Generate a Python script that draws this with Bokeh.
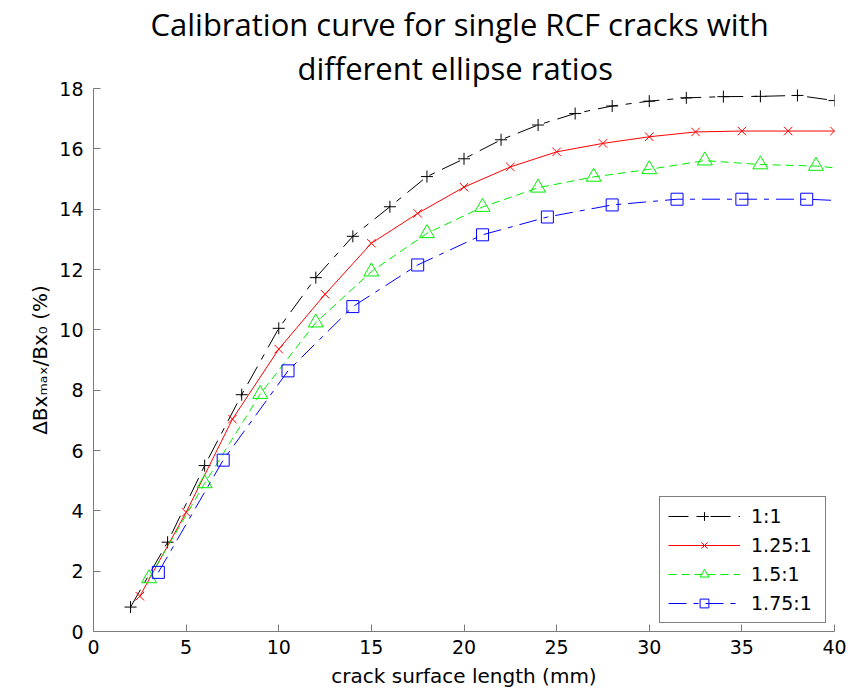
from bokeh.plotting import figure
from bokeh.models import Legend, LegendItem, Range1d, FixedTicker, Title
from bokeh.embed import file_html
from bokeh.resources import INLINE

# ---------------- data ----------------
title_lines = ["Calibration curve for single RCF cracks with", "different ellipse ratios"]
x_label = "crack surface length (mm)"
y_label = "\u0394Bx\u2098\u2090\u2093/Bx\u2080 (%)"
x_ticks = [0, 5, 10, 15, 20, 25, 30, 35, 40]
y_ticks = [0, 2, 4, 6, 8, 10, 12, 14, 16, 18]

series_names = ["1:1", "1.25:1", "1.5:1", "1.75:1"]

black_x = [2, 4, 6, 8, 10, 12, 14, 16, 18, 20, 22, 24, 26, 28, 30, 32, 34, 36, 38, 40]
black_y = [0.81, 2.96, 5.50, 7.85, 10.05, 11.73, 13.10, 14.08, 15.08, 15.67,
           16.30, 16.79, 17.17, 17.42, 17.58, 17.69, 17.73, 17.74, 17.77, 17.60]

red_x = [2.5, 5, 7.5, 10, 12.5, 15, 17.5, 20, 22.5, 25, 27.5, 30, 32.5, 35, 37.5, 40]
red_y = [1.17, 3.95, 7.04, 9.36, 11.18, 12.87, 13.86, 14.73, 15.40, 15.90,
         16.18, 16.40, 16.56, 16.59, 16.59, 16.59]

green_x = [3, 6, 9, 12, 15, 18, 21, 24, 27, 30, 33, 36, 39]
green_y = [1.76, 4.91, 7.87, 10.24, 11.93, 13.20, 14.07, 14.71, 15.07, 15.32, 15.61, 15.48, 15.43]
green_end_x = [40]
green_end_y = [15.37]

blue_x = [3.5, 7, 10.5, 14, 17.5, 21, 24.5, 28, 31.5, 35, 38.5]
blue_y = [1.96, 5.68, 8.64, 10.77, 12.15, 13.15, 13.74, 14.14, 14.33, 14.33, 14.33]
blue_end_x = [40]
blue_end_y = [14.29]

# ---------------- layout ----------------
W, H = 848, 690
FL, FR, FT, FB = 93, 834, 87, 631  # frame edges in page pixels

p = figure(width=W, height=H, output_backend="svg", toolbar_location=None,
           x_range=Range1d(0, 40), y_range=Range1d(0, 18),
           min_border_left=FL, min_border_right=W - FR,
           min_border_top=FT, min_border_bottom=H - FB)
p.xgrid.visible = False
p.ygrid.visible = False
p.outline_line_color = None
p.background_fill_color = "white"
p.border_fill_color = "white"

FONT = "DejaVu Sans"
axis_col = "#7a7a7a"
for ax, ticks in ((p.xaxis, x_ticks), (p.yaxis, y_ticks)):
    ax.ticker = FixedTicker(ticks=ticks)
    ax.axis_line_color = axis_col
    ax.major_tick_line_color = axis_col
    ax.major_tick_in = 7
    ax.major_tick_out = 0
    ax.minor_tick_line_color = None
    ax.major_label_text_font = FONT
    ax.major_label_text_font_size = "19px"
    ax.major_label_text_color = "black"
    ax.axis_label_text_font = FONT
    ax.axis_label_text_font_size = "20px"
    ax.axis_label_text_font_style = "normal"
    ax.axis_label_text_color = "black"
p.xaxis.major_label_standoff = 8
p.yaxis.major_label_standoff = 10
p.xaxis.axis_label = x_label
p.xaxis.axis_label_standoff = 7
p.yaxis.axis_label = y_label
p.yaxis.axis_label_standoff = 4

# series
styles = [
    dict(color="#000000", dash="20 8 6 8", marker="cross", size=12),
    dict(color="#ff0000", dash="solid", marker="x", size=12),
    dict(color="#00ee00", dash="8 5", marker="triangle", size=15),
    dict(color="#0000ff", dash="18 7 5 7", marker="square", size=12),
]
line_data = [
    (black_x, black_y),
    (red_x, red_y),
    (green_x + green_end_x, green_y + green_end_y),
    (blue_x + blue_end_x, blue_y + blue_end_y),
]
mark_data = [(black_x, black_y), (red_x, red_y), (green_x, green_y), (blue_x, blue_y)]

items = []
for name, st, (lx, ly), (mx, my) in zip(series_names, styles, line_data, mark_data):
    lr = p.line(lx, ly, line_color=st["color"], line_width=1, line_dash=st["dash"])
    sr = p.scatter(mx, my, marker=st["marker"], size=st["size"], line_color=st["color"],
                   fill_color=None, line_width=1)
    items.append(LegendItem(label=name, renderers=[lr, sr]))

legend = Legend(items=items, location="bottom_right")
legend.label_text_font = FONT
legend.label_text_font_size = "19px"
legend.label_text_color = "black"
legend.glyph_width = 72
legend.glyph_height = 22
legend.label_height = 22
legend.label_width = 66
legend.label_standoff = 11
legend.spacing = 7
legend.padding = 8
legend.margin = 8
legend.border_line_color = "black"
legend.border_line_width = 1
legend.background_fill_color = "white"
legend.background_fill_alpha = 1.0
p.add_layout(legend)

# two-line title: p.title is the outer (upper) line, the added Title sits next to the plot
TITLE_FONT = "Open Sans"
p.title.text = title_lines[0]
p.title.text_font = TITLE_FONT
p.title.text_font_size = "31px"
p.title.text_font_style = "normal"
p.title.text_color = "black"
p.title.align = "left"
p.title.offset = 57
p.title.standoff = 0
p.add_layout(Title(text=title_lines[1], text_font=TITLE_FONT, text_font_size="31px",
                   text_font_style="normal", text_color="black", align="left",
                   offset=204, standoff=0), "above")

open("out.html", "w").write(file_html(p, INLINE))
